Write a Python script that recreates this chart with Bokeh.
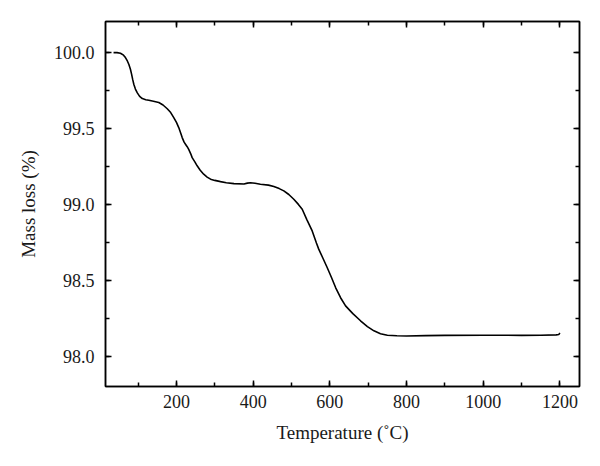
from bokeh.plotting import figure
from bokeh.models import LinearAxis, FixedTicker, Range1d, PrintfTickFormatter
from bokeh.embed import file_html
from bokeh.resources import INLINE

# Data
temperature = [36, 45, 54, 62, 67, 72, 76, 80, 83, 86, 89, 93, 98, 104, 111, 120,
               128, 140, 154, 165, 176, 185, 193, 200, 206, 211, 215, 220, 224,
               228, 232, 237, 241, 248, 254, 262, 271, 280, 289, 300, 315, 330,
               350, 376, 385, 393, 405, 419, 440, 454, 468, 480, 493, 506, 518,
               528, 540, 554, 565, 571, 582, 593, 604, 615, 628, 641, 660, 680,
               698, 715, 732, 750, 775, 800, 850, 900, 1000, 1100, 1150, 1190,
               1197, 1200]
mass = [100.000, 100.000, 99.996, 99.983, 99.967, 99.945, 99.922, 99.89, 99.858,
        99.822, 99.79, 99.76, 99.735, 99.712, 99.697, 99.690, 99.686, 99.680,
        99.671, 99.655, 99.630, 99.605, 99.572, 99.54, 99.506, 99.47, 99.44,
        99.41, 99.395, 99.38, 99.362, 99.335, 99.308, 99.28, 99.254, 99.225,
        99.199, 99.18, 99.166, 99.158, 99.15, 99.143, 99.137, 99.134, 99.140,
        99.143, 99.139, 99.133, 99.127, 99.118, 99.104, 99.089, 99.065, 99.034,
        99.00, 98.968, 98.90, 98.825, 98.745, 98.705, 98.645, 98.584, 98.52,
        98.452, 98.385, 98.331, 98.28, 98.233, 98.195, 98.167, 98.148, 98.138,
        98.134, 98.133, 98.135, 98.137, 98.138, 98.137, 98.138, 98.140, 98.143,
        98.152]

x_major = [200, 400, 600, 800, 1000, 1200]
x_minor = [100, 300, 500, 700, 900, 1100]
y_major = [98.0, 98.5, 99.0, 99.5, 100.0]
y_minor = [98.25, 98.75, 99.25, 99.75]

FONT = "Liberation Serif"
TICK_FS = "18px"
TITLE_FS = "19px"
TEXT_COLOR = "#1a1a1a"

p = figure(frame_width=474, frame_height=365,
           x_range=Range1d(15, 1251), y_range=Range1d(97.8, 100.205),
           output_backend="svg", toolbar_location=None,
           x_axis_label="Temperature (˚C)", y_axis_label="Mass loss (%)",
           min_border_left=105, min_border_right=10, min_border_top=21,
           min_border_bottom=72)
p.grid.visible = False
p.outline_line_color = "black"
p.outline_line_width = 1.5
p.background_fill_color = "white"
p.border_fill_color = "white"

p.line(temperature, mass, line_color="black", line_width=1.6)


def style(ax, labels=True):
    ax.axis_line_color = "black"
    ax.axis_line_width = 1.5
    ax.major_tick_in = 6
    ax.major_tick_out = 0
    ax.minor_tick_in = 4
    ax.minor_tick_out = 0
    ax.major_tick_line_color = "black"
    ax.minor_tick_line_color = "black"
    ax.major_tick_line_width = 1.5
    ax.minor_tick_line_width = 1.5
    ax.major_label_text_font = FONT
    ax.major_label_text_font_size = TICK_FS
    ax.major_label_text_color = TEXT_COLOR
    if labels:
        ax.axis_label_text_font = FONT
        ax.axis_label_text_font_size = TITLE_FS
        ax.axis_label_text_font_style = "normal"
        ax.axis_label_text_color = TEXT_COLOR


xa = p.xaxis[0]
xa.ticker = FixedTicker(ticks=x_major, minor_ticks=x_minor + x_major)
style(xa)
xa.major_label_standoff = 8
xa.axis_label_standoff = 11

ya = p.yaxis[0]
ya.ticker = FixedTicker(ticks=y_major, minor_ticks=y_minor + y_major)
ya.formatter = PrintfTickFormatter(format="%.1f")
style(ya)
ya.major_label_standoff = 11
ya.axis_label_standoff = 12

top = LinearAxis(ticker=FixedTicker(ticks=x_major, minor_ticks=x_minor + x_major))
style(top, labels=False)
top.major_label_overrides = {t: "" for t in x_major}
top.major_label_standoff = 0
p.add_layout(top, "above")

right = LinearAxis(ticker=FixedTicker(ticks=y_major, minor_ticks=y_minor + y_major))
style(right, labels=False)
right.major_label_overrides = {t: "" for t in y_major}
right.major_label_standoff = 0
p.add_layout(right, "right")

open("out.html", "w").write(file_html(p, INLINE))
